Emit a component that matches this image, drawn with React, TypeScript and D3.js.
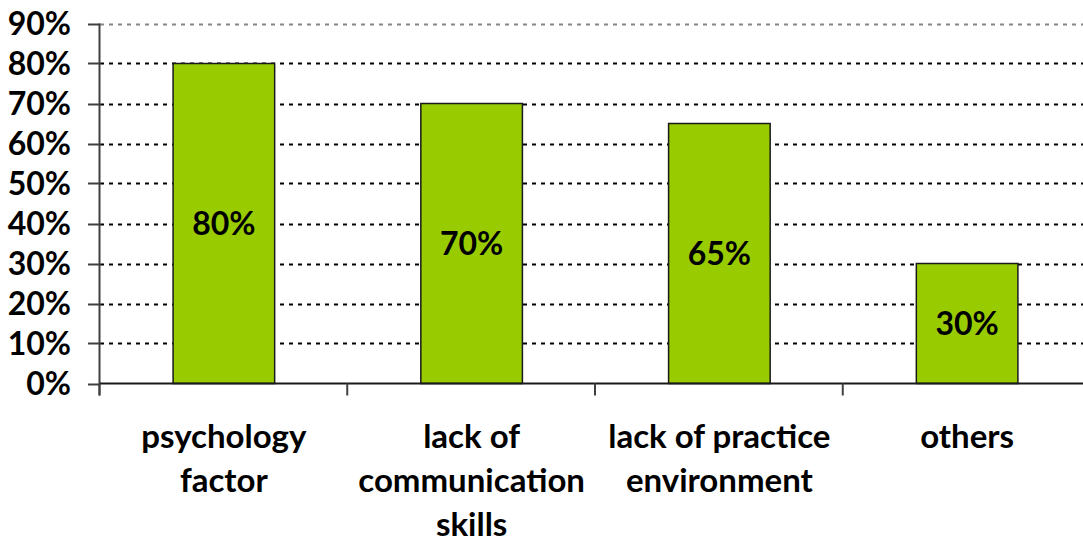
import React, { useEffect, useRef } from "react";
import * as d3 from "d3";

const categories: string[][] = [
  ["psychology", "factor"],
  ["lack of", "communication", "skills"],
  ["lack of practice", "environment"],
  ["others"],
];
const values: number[] = [0.8, 0.7, 0.65, 0.3];
const yTicks: number[] = [0, 0.1, 0.2, 0.3, 0.4, 0.5, 0.6, 0.7, 0.8, 0.9];

const W = 1083;
const H = 542;
const FONT = "Lato, 'Open Sans', sans-serif";

export default function App() {
  const ref = useRef<SVGSVGElement | null>(null);

  useEffect(() => {
    const svg = d3.select(ref.current);
    svg.selectAll("*").remove();

    const left = 100;
    const right = 1091;
    const top = 23.5;
    const bottom = 383.5;

    const x = d3
      .scaleBand<number>()
      .domain(d3.range(values.length))
      .range([left, right])
      .paddingInner(0.59)
      .paddingOuter(0.295);
    const y = d3.scaleLinear().domain([0, 0.9]).range([bottom, top]);
    const step = x.step();

    // gridlines
    svg
      .append("g")
      .selectAll("line")
      .data(yTicks.filter((t) => t > 0))
      .join("line")
      .attr("x1", left)
      .attr("x2", W)
      .attr("y1", (d) => Math.round(y(d)) + 0.5)
      .attr("y2", (d) => Math.round(y(d)) + 0.5)
      .attr("stroke", (d) => (d >= 0.9 ? "#868686" : "#000"))
      .attr("stroke-width", 2)
      .attr("stroke-dasharray", "4,5");

    // bars
    svg
      .append("g")
      .selectAll("rect")
      .data(values)
      .join("rect")
      .attr("x", (_, i) => x(i)!)
      .attr("y", (d) => y(d))
      .attr("width", x.bandwidth())
      .attr("height", (d) => y(0) - y(d))
      .attr("fill", "#99CC00")
      .attr("stroke", "#1a1a1a")
      .attr("stroke-width", 1.5);

    // data labels
    svg
      .append("g")
      .selectAll("text")
      .data(values)
      .join("text")
      .attr("x", (_, i) => x(i)! + x.bandwidth() / 2)
      .attr("y", (d) => (y(d) + y(0)) / 2)
      .attr("dy", "0.36em")
      .attr("text-anchor", "middle")
      .attr("font-family", FONT)
      .attr("font-weight", "bold")
      .attr("font-size", 32)
      .attr("fill", "#000")
      .text((d) => `${Math.round(d * 100)}%`);

    // y axis
    const ya = svg.append("g");
    ya.append("line")
      .attr("x1", left - 0.5)
      .attr("x2", left - 0.5)
      .attr("y1", top)
      .attr("y2", bottom + 12)
      .attr("stroke", "#404040")
      .attr("stroke-width", 2);
    ya.selectAll("line.tick")
      .data(yTicks)
      .join("line")
      .attr("class", "tick")
      .attr("x1", left - 12)
      .attr("x2", left)
      .attr("y1", (d) => Math.round(y(d)) + 0.5)
      .attr("y2", (d) => Math.round(y(d)) + 0.5)
      .attr("stroke", "#404040")
      .attr("stroke-width", 2);
    ya.selectAll("text")
      .data(yTicks)
      .join("text")
      .attr("x", 71)
      .attr("y", (d) => y(d))
      .attr("dy", "0.36em")
      .attr("text-anchor", "end")
      .attr("font-family", FONT)
      .attr("font-weight", "bold")
      .attr("font-size", 32)
      .attr("fill", "#000")
      .text((d) => `${Math.round(d * 100)}%`);

    // x axis
    const xa = svg.append("g");
    xa.append("line")
      .attr("x1", left)
      .attr("x2", W)
      .attr("y1", bottom)
      .attr("y2", bottom)
      .attr("stroke", "#1a1a1a")
      .attr("stroke-width", 2);
    xa.selectAll("line.tick")
      .data(d3.range(values.length + 1))
      .join("line")
      .attr("class", "tick")
      .attr("x1", (i) => left + i * step - 0.5)
      .attr("x2", (i) => left + i * step - 0.5)
      .attr("y1", bottom)
      .attr("y2", bottom + 12)
      .attr("stroke", "#404040")
      .attr("stroke-width", 2);

    const labels = xa
      .selectAll("text")
      .data(categories)
      .join("text")
      .attr("x", (_, i) => x(i)! + x.bandwidth() / 2)
      .attr("y", 449)
      .attr("text-anchor", "middle")
      .attr("font-family", FONT)
      .attr("font-weight", "bold")
      .attr("font-size", 33)
      .attr("fill", "#000");
    labels.each(function (lines, i) {
      const t = d3.select(this);
      lines.forEach((ln, j) => {
        t.append("tspan")
          .attr("x", x(i)! + x.bandwidth() / 2)
          .attr("y", 448 + j * 44)
          .text(ln);
      });
    });
  }, []);

  return (
    <svg
      ref={ref}
      width={W}
      height={H}
      style={{ position: "absolute", left: 0, top: 0, background: "#fff" }}
    />
  );
}
